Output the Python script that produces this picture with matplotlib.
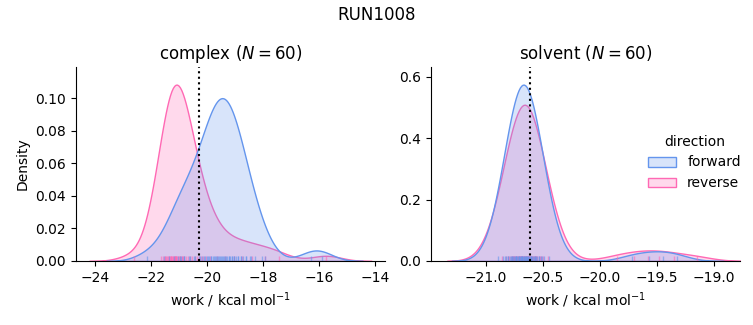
import numpy as np
import matplotlib
matplotlib.use("Agg")
import matplotlib.pyplot as plt
from matplotlib.patches import Patch
from matplotlib.collections import LineCollection
from matplotlib.colors import to_rgba
import matplotlib.transforms as mtransforms

suptitle = "RUN1008"
phases = ["complex", "solvent"]
directions = ["forward", "reverse"]
colors = {"forward": "#6495ED", "reverse": "#FF69B4"}
n_per_group = 60

complex_forward = [
    -20.96, -20.62, -20.43, -20.30, -20.19, -20.09, -20.01, -19.93, -19.86, -19.79,
    -19.72, -19.66, -19.60, -19.54, -19.48, -19.42, -19.36, -19.30, -19.24, -19.18,
    -19.11, -19.04, -18.97, -18.89, -18.81, -18.71, -18.60, -18.47, -18.28, -17.94,
    -20.84, -20.47, -20.27, -20.11, -19.99, -19.88, -19.77, -19.68, -19.58, -19.50,
    -19.41, -19.32, -19.22, -19.13, -19.03, -18.91, -18.79, -18.63, -18.43, -18.06,
    -22.15, -21.55, -21.35, -21.18, -21.05, -20.95, -20.83, -20.64,
    -16.30, -15.90,
]
complex_reverse = [
    -22.60, -21.64, -21.57, -21.52, -21.48, -21.44, -21.41, -21.38, -21.36, -21.33,
    -21.30, -21.28, -21.26, -21.23, -21.21, -21.19, -21.17, -21.14, -21.12, -21.10,
    -21.07, -21.05, -21.02, -20.99, -20.96, -20.92, -20.88, -20.83, -20.76, -20.63,
    -21.51, -21.29, -21.11, -20.89, -21.16,
    -20.70, -20.54, -20.45, -20.37, -20.30, -20.23, -20.15, -20.06, -19.90,
    -19.65, -19.35, -19.05, -18.75, -18.40, -17.95, -17.45,
    -15.75,
]
solvent_forward = [
    -20.894, -20.848, -20.823, -20.806, -20.791, -20.779, -20.768, -20.759, -20.750, -20.741,
    -20.734, -20.726, -20.719, -20.712, -20.705, -20.699, -20.692, -20.686, -20.679, -20.673,
    -20.667, -20.661, -20.654, -20.648, -20.641, -20.635, -20.628, -20.621, -20.614, -20.606,
    -20.599, -20.590, -20.581, -20.572, -20.561, -20.549, -20.534, -20.517, -20.492, -20.446,
    -20.835, -20.774, -20.737, -20.709, -20.683, -20.657, -20.631, -20.603, -20.566, -20.505,
    -20.808, -20.737, -20.691, -20.649, -20.603, -20.532,
    -19.72, -19.57, -19.45, -19.32,
]
solvent_reverse = [
    -20.862, -20.820, -20.798, -20.782, -20.769, -20.758, -20.749, -20.740, -20.732, -20.724,
    -20.717, -20.710, -20.704, -20.698, -20.692, -20.686, -20.680, -20.674, -20.668, -20.663,
    -20.657, -20.652, -20.646, -20.640, -20.634, -20.628, -20.622, -20.616, -20.610, -20.603,
    -20.596, -20.588, -20.580, -20.571, -20.562, -20.551, -20.538, -20.522, -20.500, -20.458,
    -20.808, -20.753, -20.721, -20.695, -20.671, -20.649, -20.625, -20.599, -20.567, -20.512,
    -20.764, -20.689, -20.631, -20.556,
    -19.85, -19.70, -19.58, -19.48, -19.35, -19.15,
]
estimates = {"complex": -20.30, "solvent": -20.61}

data = {
    ("complex", "forward"): complex_forward,
    ("complex", "reverse"): complex_reverse,
    ("solvent", "forward"): solvent_forward,
    ("solvent", "reverse"): solvent_reverse,
}
n_total = sum(len(v) for v in data.values())


def kde(samples, total, gridsize=200, cut=3):
    x = np.asarray(samples, dtype=float)
    h = x.std(ddof=1) * len(x) ** (-0.2)
    grid = np.linspace(x.min() - cut * h, x.max() + cut * h, gridsize)
    dens = np.exp(-0.5 * ((grid[:, None] - x[None, :]) / h) ** 2).sum(1)
    dens /= h * np.sqrt(2 * np.pi) * total
    return grid, dens


fig = plt.figure(figsize=(7.53, 3.25), dpi=100)
ax1 = fig.add_axes([75.7 / 753, 64 / 325, 309.3 / 753, 194 / 325])
ax2 = fig.add_axes([430.7 / 753, 64 / 325, 309.3 / 753, 194 / 325])
axes = {"complex": ax1, "solvent": ax2}
xlims = {"complex": (-24.70, -13.65), "solvent": (-21.484, -18.77)}

for phase in phases:
    ax = axes[phase]
    ymax = 0
    for d in reversed(directions):
        g, y = kde(data[(phase, d)], n_total)
        ymax = max(ymax, y.max())
        c = colors[d]
        ax.fill_between(g, 0, y, facecolor=to_rgba(c, 0.25), edgecolor=c, linewidth=1.0)
    trans = mtransforms.blended_transform_factory(ax.transData, ax.transAxes)
    for d in reversed(directions):
        c = colors[d]
        segs = [[(v, 0), (v, 0.025)] for v in data[(phase, d)]]
        ax.add_collection(LineCollection(segs, colors=[to_rgba(c, 0.6)], linewidths=1.0, transform=trans))
    ax.axvline(estimates[phase], color="black", linestyle=":", linewidth=1.5)
    ax.set_xlim(*xlims[phase])
    ax.set_ylim(0, ymax * 1.10)
    ax.spines["top"].set_visible(False)
    ax.spines["right"].set_visible(False)
    ax.set_title(f"{phase} ($N = {n_per_group}$)")
    ax.set_xlabel("work / kcal mol$^{-1}$")

ax1.set_ylabel("Density")
ax1.set_xticks([-24, -22, -20, -18, -16, -14])
ax1.set_yticks([0, 0.02, 0.04, 0.06, 0.08, 0.10])
ax2.set_xticks([-21.0, -20.5, -20.0, -19.5, -19.0])
ax2.set_yticks([0, 0.2, 0.4, 0.6])

handles = [Patch(facecolor=to_rgba(colors[d], 0.25), edgecolor=colors[d], linewidth=1.0) for d in directions]
fig.legend(handles, directions, title="direction", frameon=False, loc="center left",
           bbox_to_anchor=(0.8443, 0.5))
fig.suptitle(suptitle, fontsize=12, y=0.98)

fig.savefig("out.png", dpi=100)
